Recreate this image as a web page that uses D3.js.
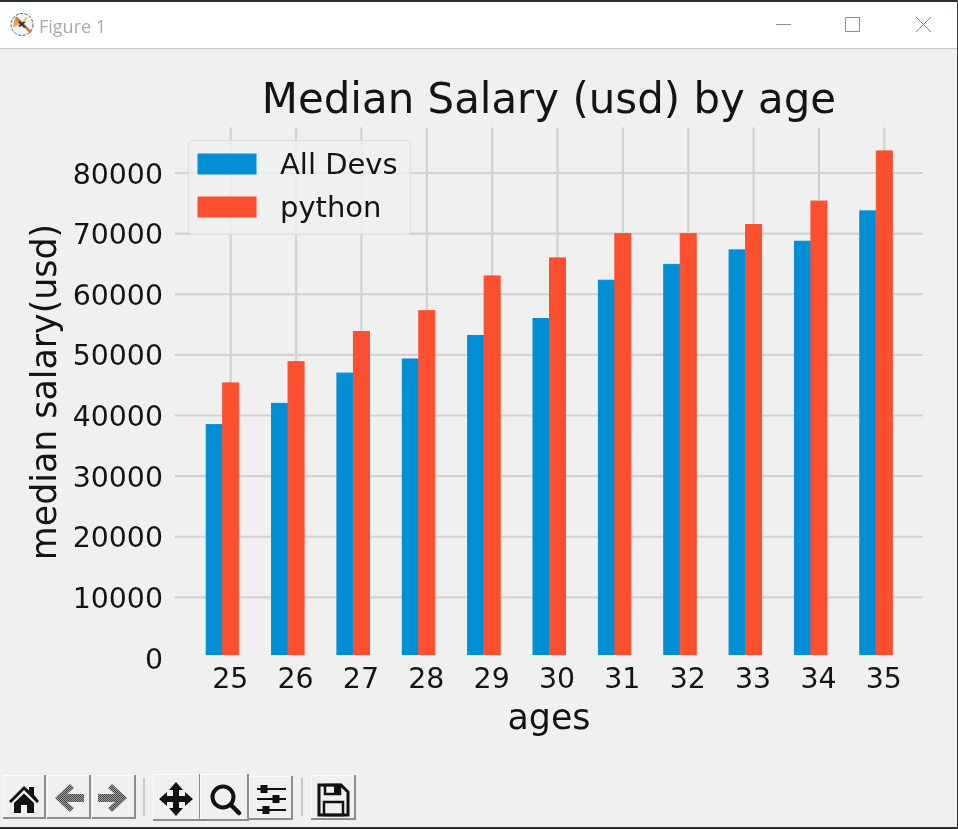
<!DOCTYPE html>
<html>
<head>
<meta charset="utf-8">
<script src="https://cdn.jsdelivr.net/npm/d3@7"></script>
<style>
html,body{margin:0;padding:0;background:#f0f0f0;overflow:hidden}
svg{display:block;filter:blur(0.4px)}
text{font-family:"DejaVu Sans",sans-serif;fill:#141414}
</style>
</head>
<body>
<script>
const ages = [25,26,27,28,29,30,31,32,33,34,35];
const allDevs = [38496,42000,46993,49320,53200,56000,62316,64928,67317,68748,73752];
const python = [45372,48876,53850,57287,63016,65998,70003,70000,71496,75370,83640];
const yTicks = [0,10000,20000,30000,40000,50000,60000,70000,80000];
const seriesNames = ["All Devs","python"];
const seriesColors = ["#008fd5","#fc4f30"];
const chartTitle = "Median Salary (usd) by age";
const xLabel = "ages";
const yLabel = "median salary(usd)";
const windowTitle = "Figure 1";

const W=958,H=829;
const svg=d3.select("body").append("svg").attr("width",W).attr("height",H);
svg.append("rect").attr("width",W).attr("height",H).attr("fill","#f0f0f0");

// axes geometry
const plot={left:175,right:923,top:127.5,bottom:655};
const x=d3.scalePoint().domain(ages).range([230.7,884.3]);
const y=d3.scaleLinear().domain([0,80000]).range([658,173]);
const barW=16.5;

// grid
const grid=svg.append("g").attr("stroke","#d2d2d2").attr("stroke-width",2.2);
grid.selectAll("line.h").data(yTicks.filter(d=>d>0)).join("line").attr("class","h")
  .attr("x1",plot.left).attr("x2",plot.right).attr("y1",d=>y(d)).attr("y2",d=>y(d));
grid.selectAll("line.v").data(ages).join("line").attr("class","v")
  .attr("x1",d=>x(d)).attr("x2",d=>x(d)).attr("y1",plot.top).attr("y2",plot.bottom);

// bars
const defs=svg.append("defs");
defs.append("clipPath").attr("id","axclip").append("rect")
  .attr("x",plot.left).attr("y",plot.top).attr("width",plot.right-plot.left).attr("height",plot.bottom-plot.top);
const bars=svg.append("g").attr("clip-path","url(#axclip)");
[allDevs,python].forEach((vals,s)=>{
  bars.append("g").selectAll("rect").data(vals).join("rect")
    .attr("x",(d,i)=>x(ages[i])-barW*(1.5-s)+0.25)
    .attr("width",barW-0.5)
    .attr("y",d=>y(d))
    .attr("height",d=>y(0)-y(d))
    .attr("fill",seriesColors[s])
    .attr("stroke",seriesColors[s]).attr("stroke-width",1);
});

// axes (text only, as in the fivethirtyeight style)
const yAxis=svg.append("g").attr("transform","translate(163,0)")
  .call(d3.axisLeft(y).tickValues(yTicks).tickSize(0).tickPadding(0).tickFormat(d3.format("d")));
const xAxis=svg.append("g").attr("transform","translate(0,658)")
  .call(d3.axisBottom(x).tickSize(0).tickPadding(0));
[yAxis,xAxis].forEach(a=>{a.select(".domain").remove();
  a.selectAll("text").attr("font-size",28.4).style("fill","#141414");
  a.attr("font-family",null);});
xAxis.selectAll("text").attr("dy",null).attr("y",30).attr("x",-1);
yAxis.selectAll("text").attr("dy",null).attr("y",10);

// titles
svg.append("text").attr("x",549).attr("y",113).attr("text-anchor","middle").attr("font-size",41.9).text(chartTitle);
svg.append("text").attr("x",549).attr("y",729).attr("text-anchor","middle").attr("font-size",34.8).text(xLabel);
svg.append("text").attr("transform","translate(56,392) rotate(-90)").attr("text-anchor","middle").attr("font-size",34.8).text(yLabel);

// legend
const lg=svg.append("g");
lg.append("rect").attr("x",188.5).attr("y",140.5).attr("width",222).attr("height",94).attr("rx",4)
  .attr("fill","#f0f0f0").attr("fill-opacity",.8).attr("stroke","#dedede").attr("stroke-width",1.2);
seriesNames.forEach((n,i)=>{
  const cy=[164,207][i];
  lg.append("rect").attr("x",197.5).attr("y",cy-10.5).attr("width",59).attr("height",21).attr("fill",seriesColors[i]);
  lg.append("text").attr("x",280).attr("y",cy+10).attr("font-size",29).text(n);
});

// window chrome
svg.append("rect").attr("width",W).attr("height",48).attr("fill","#ffffff");
svg.append("rect").attr("x",0).attr("y",48).attr("width",W).attr("height",1).attr("fill","#c8c8c8");
svg.append("rect").attr("width",W).attr("height",2).attr("fill","#2a2f30");
svg.append("rect").attr("y",827).attr("width",W).attr("height",2).attr("fill","#2a2f30");
svg.append("rect").attr("x",957).attr("width",1).attr("height",H).attr("fill","#3a3a3a");
svg.append("text").attr("x",39).attr("y",33).attr("font-size",18).style("font-family","'Open Sans',sans-serif").style("fill","#a8a8a8").text(windowTitle);
// app icon
const ic=svg.append("g").attr("transform","translate(22,24.5)");
ic.append("circle").attr("r",11).attr("fill","#f4f4f4").attr("stroke","#2f6f96").attr("stroke-width",1).attr("stroke-dasharray","3 1.5");
ic.append("path").attr("d","M-7-8L-1-1L-9 3Z").attr("fill","#f0a050");
ic.append("path").attr("d","M-6 -7L9 8").attr("stroke","#c87848").attr("stroke-width",2.5);
ic.append("path").attr("d","M-3 -3L3 3M-3 2L3-3").attr("stroke","#333").attr("stroke-width",2);
ic.append("path").attr("d","M2-3L5-7").attr("stroke","#c8d850").attr("stroke-width",2);
// window buttons
const wb=svg.append("g").attr("fill","none").attr("stroke","#8e8e8e").attr("stroke-width",1);
wb.append("path").attr("d","M776 24.5H791");
wb.append("rect").attr("x",845.5).attr("y",17.5).attr("width",14).attr("height",14);
wb.append("path").attr("d","M916 17L931 32M931 17L916 32");

// toolbar
function button(x0,y0,w,h){
  const g=svg.append("g");
  g.append("rect").attr("x",x0).attr("y",y0).attr("width",w).attr("height",h).attr("fill","#8c8c8c");
  g.append("rect").attr("x",x0).attr("y",y0).attr("width",w-2).attr("height",h-2).attr("fill","#fbfbfb");
  g.append("rect").attr("x",x0+1).attr("y",y0+1).attr("width",w-3).attr("height",h-3).attr("fill","#f0f0f0");
  return g;
}
function sep(x0){svg.append("rect").attr("x",x0).attr("y",778).attr("width",2).attr("height",38).attr("fill","#c8c8c8");}
const dk="#111";
// home
button(3,775,43,44).append("path").attr("fill",dk)
 .attr("d","M9 801L24 786L29 790.500V787H34V795L39 801L37 803L24 790L11 803ZM14 803L24 793.500L34 803V813H27V805H21V813H14Z");
// stipple for the disabled arrows
const pat=defs.append("pattern").attr("id","stip").attr("width",2).attr("height",2).attr("patternUnits","userSpaceOnUse");
pat.append("rect").attr("width",2).attr("height",2).attr("fill","#a0a0a0");
pat.append("rect").attr("width",1).attr("height",1).attr("fill","#444");
pat.append("rect").attr("x",1).attr("y",1).attr("width",1).attr("height",1).attr("fill","#444");
// back
button(47,775,44,44).append("path").attr("fill","url(#stip)")
 .attr("d","M55 798L70 784L74 788L67 794H84V802H67L74 808L70 812Z");
// forward
button(92,775,44,44).append("path").attr("fill","url(#stip)")
 .attr("d","M127 798L112 784L108 788L115 794H98V802H115L108 808L112 812Z");
sep(143);
// pan
button(153,774,48,47).append("path").attr("fill",dk)
 .attr("d","M176 782L183 790H179V796H185V792L193 799L185 806V802H179V808H183L176 816L169 808H173V802H167V806L159 799L167 792V796H173V790H169Z");
// zoom
const z=button(200,774,49,47);
z.append("circle").attr("cx",223).attr("cy",797).attr("r",10.5).attr("fill","none").attr("stroke",dk).attr("stroke-width",4);
z.append("path").attr("d","M231 805L239 813").attr("stroke",dk).attr("stroke-width",4.500).attr("stroke-linecap","round");
// subplots
const sb=button(249,776,44,44);
[[789,264],[799,276],[810,266]].forEach(([yy,xx])=>{
  sb.append("path").attr("d",`M257 ${yy}H286`).attr("stroke",dk).attr("stroke-width",2);
  sb.append("rect").attr("x",xx-3.5).attr("y",yy-4).attr("width",7).attr("height",8).attr("fill",dk);
});
sep(301);
// save
const sv=button(311,775,45,45);
sv.append("path").attr("fill","none").attr("stroke",dk).attr("stroke-width",3)
 .attr("d","M319 785H341L348 792V815H319Z");
sv.append("rect").attr("x",325).attr("y",785).attr("width",15).attr("height",9).attr("fill","none").attr("stroke",dk).attr("stroke-width",2.500);
sv.append("rect").attr("x",334).attr("y",786).attr("width",5).attr("height",7).attr("fill",dk);
sv.append("rect").attr("x",324).attr("y",802).attr("width",19).attr("height",13).attr("fill","none").attr("stroke",dk).attr("stroke-width",2.500);
</script>
</body>
</html>
